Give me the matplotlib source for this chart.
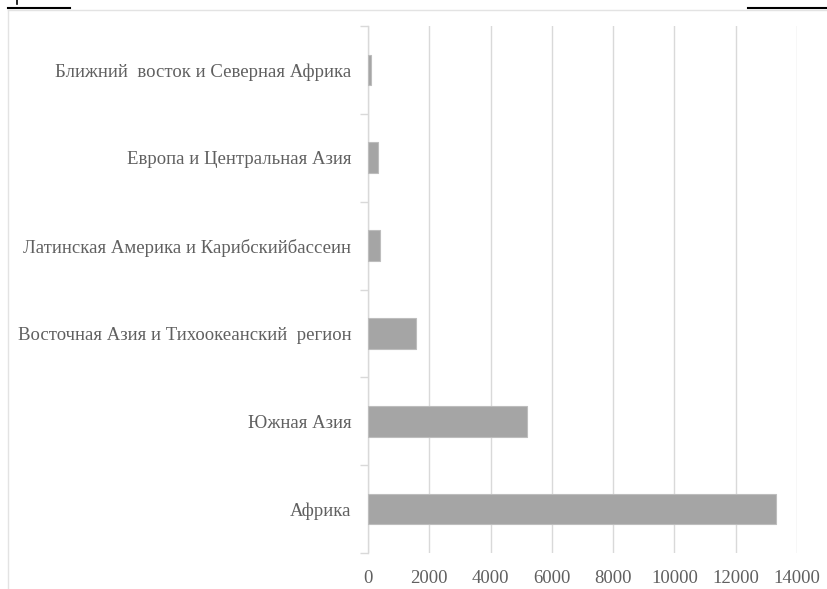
import matplotlib
matplotlib.use("Agg")
import matplotlib.pyplot as plt
from matplotlib.lines import Line2D

categories = [
    "Африка",
    "Южная Азия",
    "Восточная Азия и Тихоокеанский  регион",
    "Латинская Америка и Карибскийбассеин",
    "Европа и Центральная Азия",
    "Ближний  восток и Северная Африка",
]
values = [13300, 5200, 1560, 390, 320, 90]
xticks = [0, 2000, 4000, 6000, 8000, 10000, 12000, 14000]

W, H = 828, 589
fig = plt.figure(figsize=(W / 100, H / 100), dpi=100)
plt.rcParams['font.family'] = ['Liberation Serif', 'DejaVu Serif']

ax = fig.add_axes([368 / W, 1 - 553 / H, (797 - 368) / W, (553 - 26) / H])
txt = "#606060"
pos = list(range(len(categories)))
ax.barh(pos, values, height=0.35, color="#a5a5a5", edgecolor="#bdbdbd", linewidth=0.8, zorder=3)
ax.set_xlim(0, 14000)
ax.set_ylim(-0.5, len(categories) - 0.5)
ax.set_xticks(xticks)
ax.set_xticklabels([str(t) for t in xticks], fontsize=13.5, color=txt)
ax.set_yticks(pos)
ax.set_yticklabels(categories, fontsize=13.5, color=txt)
ax.tick_params(axis='y', length=0, pad=12)
ax.tick_params(axis='x', length=0, pad=12)
# boundary ticks
ax.set_yticks([p - 0.5 for p in pos] + [len(categories) - 0.5], minor=True)
ax.tick_params(axis='y', which='minor', length=6, color="#d9d9d9", width=1)
ax.grid(axis='x', color="#d9d9d9", linewidth=1, zorder=0)
for s in ['top', 'right', 'bottom']:
    ax.spines[s].set_visible(False)
ax.spines['left'].set_color("#d9d9d9")
ax.spines['left'].set_linewidth(1)

# outer frame and scan marks
def fx(x):
    return x / W
def fy(y):
    return 1 - y / H
fig.add_artist(Line2D([fx(8), fx(828)], [fy(10), fy(10)], color="#e3e3e3", lw=1))
fig.add_artist(Line2D([fx(8), fx(8)], [fy(10), fy(589)], color="#e3e3e3", lw=1))
fig.add_artist(Line2D([fx(8), fx(70)], [fy(7.5), fy(7.5)], color="black", lw=1.5))
fig.add_artist(Line2D([fx(748), fx(828)], [fy(7.5), fy(7.5)], color="black", lw=1.5))
fig.add_artist(Line2D([fx(17), fx(17)], [fy(0), fy(4)], color="black", lw=1.2))

fig.savefig("out.png", dpi=100)
